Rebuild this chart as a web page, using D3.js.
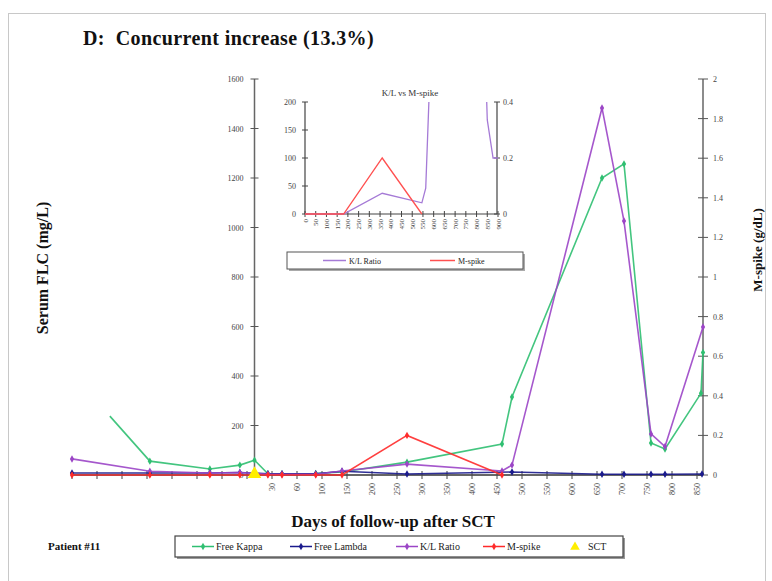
<!DOCTYPE html>
<html>
<head>
<meta charset="utf-8">
<script src="https://cdn.jsdelivr.net/npm/d3@7"></script>
<style>
  body { margin: 0; background: #fff; }
  text { font-family: "Liberation Serif", "DejaVu Serif", serif; }
</style>
</head>
<body>
<div id="chart"></div>
<script>
// ---- data (days relative to SCT) ----
var preTickDays = [-280, -245, -210, -175, -140, -105, -70, -35]; // unlabeled ticks before SCT
var postTickDays = [30, 60, 100, 150, 200, 250, 300, 350, 400, 450, 500, 550, 600, 650, 700, 750, 800, 850];

var kappa = [[-227, 238], [-171, 56], [-87, 24], [-45, 40], [0, 60], [23, 5], [42, 5], [90, 6], [140, 12],
  [270, 52], [460, 125], [480, 315], [660, 1200], [704, 1257], [758, 129], [786, 105], [858, 330], [862, 495]];
var lambda = [[-280, 8], [-171, 8], [-87, 8], [-45, 10], [23, 5], [42, 5], [90, 5], [140, 15], [270, 4],
  [480, 12], [660, 3], [704, 3], [758, 3], [786, 3], [860, 4]];
var klRatio = [[-280, 65], [-171, 15], [-87, 8], [-45, 10], [23, 3], [42, 3], [90, 3], [140, 16], [270, 44],
  [460, 16], [480, 40], [660, 1483], [704, 1026], [758, 166], [786, 115], [862, 598]];
var mspike = [[-280, 0], [-171, 0], [-87, 0], [-45, 0], [23, 0], [42, 0], [90, 0], [140, 0], [270, 0.2], [460, 0]];
var sct = [[0, 0]];

// inset: K/L vs M-spike
var insetTicks = d3.range(0, 901, 50);
var insetKL = [[0, 0], [30, 0], [60, 0], [100, 0], [150, 0], [180, 0], [360, 37], [545, 20], [563, 46],
  [700, 1483], [780, 1026], [850, 168], [877, 100], [900, 100]];
var insetMspike = [[0, 0], [30, 0], [60, 0], [100, 0], [150, 0], [180, 0], [360, 0.2], [545, 0]];

var leftTicks = d3.range(0, 1601, 200);
var rightTicks = d3.range(0, 2.01, 0.2);

var colors = {kappa: "#2fbf71", lambda: "#1a1a8c", kl: "#9b45c6", mspike: "#ff2a2a", sct: "#ffee00"};

// ---- layout ----
var W = 772, H = 581;
var svg = d3.select("#chart").append("svg").attr("width", W).attr("height", H);

svg.append("rect").attr("x", 8.5).attr("y", 13.5).attr("width", 757).attr("height", 570)
  .attr("fill", "#fff").attr("stroke", "#c8c8c8");

svg.append("text").attr("x", 83).attr("y", 45).attr("font-size", 20).attr("font-weight", "bold")
  .attr("letter-spacing", 0.4).attr("xml:space", "preserve").style("white-space", "pre")
  .attr("fill", "#111").text("D:  Concurrent increase (13.3%)");

var nSlots = preTickDays.length + postTickDays.length - 1; // last slot index
var dayToSlot = d3.scaleLinear()
  .domain(preTickDays.concat([0], postTickDays))
  .range(d3.range(preTickDays.length).concat([preTickDays.length - 0.7], d3.range(preTickDays.length, nSlots + 1)));
var xSlot = d3.scaleLinear().domain([0, nSlots]).range([72, 697]);
var x = function(day) { return xSlot(dayToSlot(day)); };
var xEnd = 703;
var y0 = 475, yTop = 79;
var yL = d3.scaleLinear().domain([0, 1600]).range([y0, yTop]);
var yR = d3.scaleLinear().domain([0, 2]).range([y0, yTop]);
var xAxisPos = x(0);

var tickFont = 8, tickCol = "#444";

// left axis (crosses at SCT)
var gl = svg.append("g");
gl.append("line").attr("x1", xAxisPos).attr("x2", xAxisPos).attr("y1", yTop).attr("y2", y0)
  .attr("stroke", "#666").attr("stroke-width", 1.5);
leftTicks.forEach(function(t) {
  gl.append("line").attr("x1", xAxisPos - 4).attr("x2", xAxisPos + 4).attr("y1", yL(t)).attr("y2", yL(t))
    .attr("stroke", "#555");
  gl.append("text").attr("x", xAxisPos - 11).attr("y", yL(t) + 3).attr("text-anchor", "end")
    .attr("font-size", tickFont).attr("fill", tickCol).text(t);
});

// right axis
var gr = svg.append("g");
gr.append("line").attr("x1", xEnd).attr("x2", xEnd).attr("y1", yTop).attr("y2", y0)
  .attr("stroke", "#666").attr("stroke-width", 1.5);
rightTicks.forEach(function(t) {
  gr.append("line").attr("x1", xEnd - 5).attr("x2", xEnd + 5).attr("y1", yR(t)).attr("y2", yR(t))
    .attr("stroke", "#555");
  gr.append("text").attr("x", xEnd + 10).attr("y", yR(t) + 3)
    .attr("font-size", tickFont).attr("fill", tickCol).text(d3.format("~g")(+t.toFixed(1)));
});

// x axis
var gx = svg.append("g");
gx.append("line").attr("x1", xSlot(0)).attr("x2", xEnd).attr("y1", y0).attr("y2", y0)
  .attr("stroke", "#333").attr("stroke-width", 1.5);
d3.range(nSlots + 1).forEach(function(s) {
  gx.append("line").attr("x1", xSlot(s)).attr("x2", xSlot(s)).attr("y1", y0 - 4).attr("y2", y0 + 4)
    .attr("stroke", "#444");
});
postTickDays.forEach(function(d) {
  gx.append("text").attr("transform", "translate(" + (x(d) + 3) + "," + (y0 + 8) + ") rotate(-90)")
    .attr("text-anchor", "end").attr("font-size", tickFont).attr("fill", tickCol).text(d);
});

// axis titles
svg.append("text").attr("transform", "translate(48,268) rotate(-90)").attr("text-anchor", "middle")
  .attr("font-size", 16).attr("font-weight", "bold").attr("fill", "#111").text("Serum FLC (mg/L)");
svg.append("text").attr("transform", "translate(762,250) rotate(-90)").attr("text-anchor", "middle")
  .attr("font-size", 13).attr("font-weight", "bold").attr("fill", "#111").text("M-spike (g/dL)");
svg.append("text").attr("x", 393).attr("y", 527).attr("text-anchor", "middle")
  .attr("font-size", 17).attr("font-weight", "bold").attr("fill", "#111").text("Days of follow-up after SCT");
svg.append("text").attr("x", 48).attr("y", 550).attr("font-size", 11).attr("font-weight", "bold")
  .attr("fill", "#111").text("Patient #11");

// series
var diamond = d3.symbol().type(d3.symbolDiamond).size(16);
function series(data, yScale, color, skipFirstMarker) {
  var line = d3.line().x(function(d) { return x(d[0]); }).y(function(d) { return yScale(d[1]); });
  svg.append("path").datum(data).attr("d", line).attr("fill", "none")
    .attr("stroke", color).attr("stroke-width", 1.6).attr("stroke-opacity", 0.9);
  svg.selectAll(null).data(skipFirstMarker ? data.slice(1) : data).enter().append("path")
    .attr("d", diamond).attr("fill", color)
    .attr("transform", function(d) { return "translate(" + x(d[0]) + "," + yScale(d[1]) + ")"; });
}
series(kappa, yL, colors.kappa, true);
series(lambda, yL, colors.lambda);
series(klRatio, yL, colors.kl);
series(mspike, yR, colors.mspike);

var tri = d3.symbol().type(d3.symbolTriangle).size(80);
svg.selectAll(null).data(sct).enter().append("path").attr("d", tri).attr("fill", colors.sct)
  .attr("transform", function(d) { return "translate(" + x(d[0]) + "," + (yL(d[1]) - 1) + ")"; });

// legend
var lg = svg.append("g");
lg.append("rect").attr("x", 177).attr("y", 538).attr("width", 448).attr("height", 21).attr("fill", "#999");
lg.append("rect").attr("x", 175).attr("y", 536).attr("width", 448).attr("height", 21)
  .attr("fill", "#fff").attr("stroke", "#444").attr("stroke-width", 1.2);
var legItems = [
  {label: "Free Kappa", color: colors.kappa, x: 192},
  {label: "Free Lambda", color: colors.lambda, x: 290},
  {label: "K/L Ratio", color: colors.kl, x: 396},
  {label: "M-spike", color: colors.mspike, x: 483}
];
legItems.forEach(function(it) {
  lg.append("line").attr("x1", it.x).attr("x2", it.x + 22).attr("y1", 546.5).attr("y2", 546.5)
    .attr("stroke", it.color).attr("stroke-width", 1.5);
  lg.append("path").attr("d", diamond).attr("fill", it.color).attr("transform", "translate(" + (it.x + 11) + ",546.5)");
  lg.append("text").attr("x", it.x + 24).attr("y", 550).attr("font-size", 10).attr("fill", "#222").text(it.label);
});
lg.append("path").attr("d", d3.symbol().type(d3.symbolTriangle).size(40)).attr("fill", colors.sct)
  .attr("transform", "translate(575,547)");
lg.append("text").attr("x", 588).attr("y", 550).attr("font-size", 10).attr("fill", "#222").text("SCT");

// ---- inset ----
var ix = d3.scaleLinear().domain([0, 900]).range([305, 498]);
var iyL = d3.scaleLinear().domain([0, 200]).range([214, 102]);
var iyR = d3.scaleLinear().domain([0, 0.4]).range([214, 102]);
var ins = svg.append("g");
ins.append("text").attr("x", 410).attr("y", 96).attr("text-anchor", "middle").attr("font-size", 9)
  .attr("fill", "#333").text("K/L vs M-spike");
ins.append("clipPath").attr("id", "insClip").append("rect")
  .attr("x", 300).attr("y", iyL(200)).attr("width", 205).attr("height", iyL(0) - iyL(200) + 2);

// inset axes
ins.append("line").attr("x1", ix(0)).attr("x2", ix(0)).attr("y1", iyL(200)).attr("y2", iyL(0)).attr("stroke", "#444").attr("stroke-width", 1.2);
ins.append("line").attr("x1", 497).attr("x2", 497).attr("y1", iyL(200)).attr("y2", iyL(0)).attr("stroke", "#444").attr("stroke-width", 1.2);
ins.append("line").attr("x1", ix(0)).attr("x2", 497).attr("y1", iyL(0)).attr("y2", iyL(0)).attr("stroke", "#444").attr("stroke-width", 1.2);
[0, 50, 100, 150, 200].forEach(function(t) {
  ins.append("line").attr("x1", ix(0) - 3).attr("x2", ix(0) + 3).attr("y1", iyL(t)).attr("y2", iyL(t)).attr("stroke", "#444");
  ins.append("text").attr("x", ix(0) - 9).attr("y", iyL(t) + 3).attr("text-anchor", "end")
    .attr("font-size", 8).attr("fill", tickCol).text(t);
});
[0, 0.2, 0.4].forEach(function(t) {
  ins.append("line").attr("x1", 494).attr("x2", 500).attr("y1", iyR(t)).attr("y2", iyR(t)).attr("stroke", "#444");
  ins.append("text").attr("x", 503).attr("y", iyR(t) + 3).attr("font-size", 8).attr("fill", tickCol).text(t);
});
insetTicks.forEach(function(t) {
  ins.append("line").attr("x1", ix(t)).attr("x2", ix(t)).attr("y1", iyL(0) - 3).attr("y2", iyL(0) + 3).attr("stroke", "#444");
  ins.append("text").attr("transform", "translate(" + (ix(t) + 2.5) + "," + (iyL(0) + 5) + ") rotate(-90)")
    .attr("text-anchor", "end").attr("font-size", 7).attr("fill", tickCol).text(t);
});

var iLineKL = d3.line().x(function(d) { return ix(d[0]); }).y(function(d) { return iyL(d[1]); });
var iLineM = d3.line().x(function(d) { return ix(d[0]); }).y(function(d) { return iyR(d[1]); });
ins.append("path").datum(insetKL).attr("d", iLineKL).attr("clip-path", "url(#insClip)")
  .attr("fill", "none").attr("stroke", "#a57ad6").attr("stroke-width", 1.3);
ins.append("path").datum(insetMspike).attr("d", iLineM).attr("clip-path", "url(#insClip)")
  .attr("fill", "none").attr("stroke", "#ff5050").attr("stroke-width", 1.3);

// inset legend
ins.append("rect").attr("x", 289).attr("y", 254).attr("width", 236).attr("height", 17).attr("fill", "#aaa");
ins.append("rect").attr("x", 287).attr("y", 252).attr("width", 236).attr("height", 17)
  .attr("fill", "#fff").attr("stroke", "#555").attr("stroke-width", 1);
ins.append("line").attr("x1", 323).attr("x2", 346).attr("y1", 260.5).attr("y2", 260.5).attr("stroke", "#a57ad6").attr("stroke-width", 1.5);
ins.append("text").attr("x", 349).attr("y", 264).attr("font-size", 8).attr("fill", "#222").text("K/L Ratio");
ins.append("line").attr("x1", 430).attr("x2", 455).attr("y1", 260.5).attr("y2", 260.5).attr("stroke", "#ff5050").attr("stroke-width", 1.5);
ins.append("text").attr("x", 458).attr("y", 264).attr("font-size", 8).attr("fill", "#222").text("M-spike");
</script>
</body>
</html>
